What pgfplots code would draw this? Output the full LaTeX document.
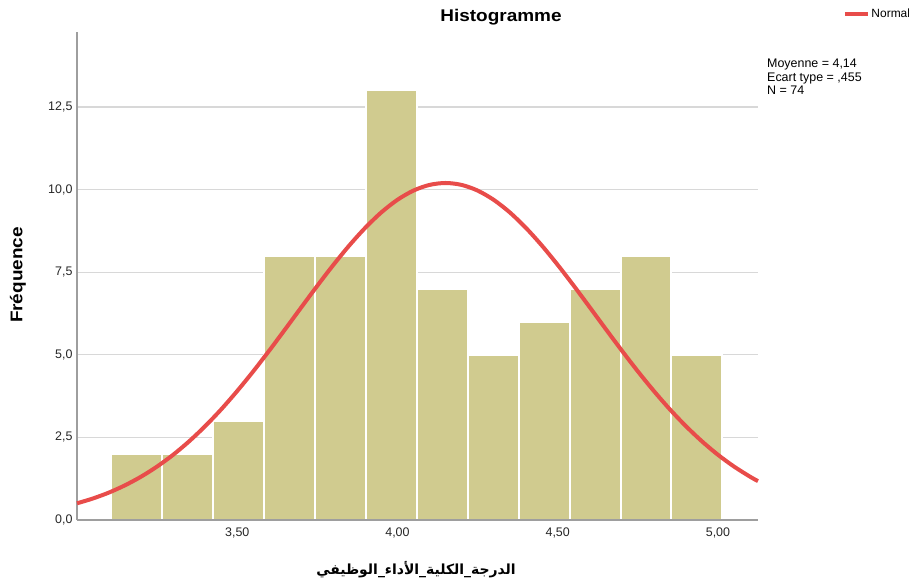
\documentclass[border=0pt]{standalone}
\usepackage{fontspec}
\setmainfont{Liberation Sans}
\newfontfamily\arabicfont[Script=Arabic]{DejaVu Sans}
\TeXXeTstate=1
\usepackage{pgfplots}
\pgfplotsset{compat=1.18}

\definecolor{barfill}{RGB}{208,203,143}
\definecolor{curvered}{RGB}{232,76,74}
\definecolor{axisgrey}{RGB}{158,158,158}
\definecolor{gridgrey}{RGB}{216,216,216}

\begin{document}
\begin{tikzpicture}
\useasboundingbox (-77bp,-64bp) rectangle (832bp,520bp);
\begin{axis}[
  at={(0,0)}, anchor=south west,
  scale only axis, width=681bp, height=488bp,
  xmin=3.0, xmax=5.125, ymin=0, ymax=14.77,
  clip=false,
  axis x line=bottom, axis y line=left,
  axis line style={-, draw=axisgrey, line width=2bp},
  xtick={3.5,4,4.5,5}, xticklabels={{3,50},{4,00},{4,50},{5,00}},
  ytick={0,2.5,5,7.5,10,12.5},
  yticklabels={{0,0},{2,5},{5,0},{7,5},{10,0},{12,5}},
  major tick length=0pt,
  ymajorgrids, grid style={draw=gridgrey, line width=1.3bp},
  tick label style={font=\fontsize{12.5}{14}\selectfont, text=black!85},
  xticklabel style={yshift=-4bp},
  yticklabel style={xshift=-1bp},
  legend style={at={(rel axis cs:1.1248,1.037)}, anchor=west, draw=none,
    fill=none, inner sep=0pt, outer sep=0pt,
    font=\fontsize{12}{14}\selectfont,
    nodes={inner sep=1.5bp}},
  legend image code/.code={\draw[#1] (0bp,0bp) -- (23bp,0bp);},
]
% histogram: left bin edges and counts (last point closes the final bin)
\addplot[ybar interval, fill=barfill, draw=white, line width=2bp, forget plot] coordinates {
  (3.106,2) (3.265,2) (3.424,3) (3.583,8) (3.742,8) (3.901,13)
  (4.060,7) (4.219,5) (4.378,6) (4.537,7) (4.696,8) (4.855,5) (5.014,5)};
% bottom axis line redrawn over the bar bases
\draw[axisgrey, line width=2bp] (rel axis cs:0,0) -- (rel axis cs:1,0);
% fitted normal curve
\addplot[curvered, line width=4bp, smooth] coordinates {
  (3.00,0.505) (3.05,0.652) (3.10,0.832) (3.15,1.051) (3.20,1.312)
  (3.25,1.619) (3.30,1.974) (3.35,2.382) (3.40,2.841) (3.45,3.349)
  (3.50,3.905) (3.55,4.500) (3.60,5.129) (3.65,5.779) (3.70,6.438)
  (3.75,7.091) (3.80,7.721) (3.85,8.313) (3.90,8.849) (3.95,9.314)
  (4.00,9.692) (4.05,9.971) (4.10,10.142) (4.15,10.200) (4.20,10.142)
  (4.25,9.971) (4.30,9.692) (4.35,9.314) (4.40,8.849) (4.45,8.313)
  (4.50,7.721) (4.55,7.091) (4.60,6.438) (4.65,5.779) (4.70,5.129)
  (4.75,4.500) (4.80,3.905) (4.85,3.349) (4.90,2.841) (4.95,2.382)
  (5.00,1.974) (5.05,1.619) (5.10,1.312) (5.125,1.176)};
\addlegendentry{Normal}

\node[font=\fontsize{17}{20}\selectfont\bfseries] at (rel axis cs:0.6226,1.0307)
  {\scalebox{1.12}[1]{Histogramme}};
\node[rotate=90, font=\fontsize{17}{20}\selectfont\bfseries] at (rel axis cs:-0.0866,0.502)
  {\scalebox{1.12}[1]{Fréquence}};
\node[font=\fontsize{14}{16}\selectfont] at (rel axis cs:0.4978,-0.1025)
  {\arabicfont\bfseries\beginR الدرجة\_الكلية\_الأداء\_الوظيفي\endR};
\node[anchor=north west, align=left, inner sep=0pt,
      font=\fontsize{12.5}{13.5}\selectfont] at (rel axis cs:1.0132,0.9447)
  {Moyenne = 4,14\\Ecart type = ,455\\N = 74};
\end{axis}
\end{tikzpicture}
\end{document}
